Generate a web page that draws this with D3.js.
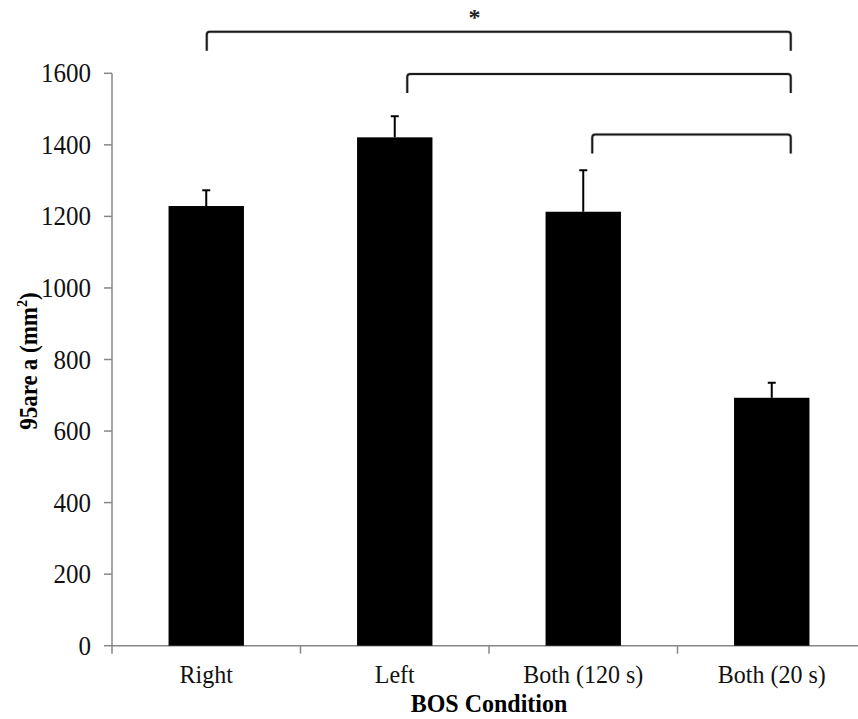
<!DOCTYPE html>
<html><head><meta charset="utf-8">
<script src="https://cdn.jsdelivr.net/npm/d3@7"></script>
<style>body{margin:0;background:#fff}svg{display:block}</style>
</head><body>
<script>
const categories = ["Right", "Left", "Both (120 s)", "Both (20 s)"];
const means = [1229, 1421, 1213, 693];
const errors = [44, 59, 116, 42];
const yTicks = [0, 200, 400, 600, 800, 1000, 1200, 1400, 1600];
const bracketFrom = ["Right", "Left", "Both (120 s)"];
const bracketTo = ["Both (20 s)", "Both (20 s)", "Both (20 s)"];
const bracketLevel = [1716, 1598, 1429];
const sigLabel = "*";

const W = 858, H = 719;
const svg = d3.select("body").append("svg").attr("width", W).attr("height", H);
const x = d3.scaleBand().domain(categories).range([112, 866]).paddingInner(0).paddingOuter(0);
const y = d3.scaleLinear().domain([0, 1600]).range([645.7, 73.3]);
const barW = x.bandwidth() * 0.4;
const cx = c => x(c) + x.bandwidth() / 2;
const font = "'Liberation Serif','Times New Roman',serif";
const axisColor = "#878787";
const sy = 1.08; // glyphs in the reference are slightly taller than wide

// y axis
svg.append("line").attr("x1", 112).attr("x2", 112).attr("y1", y(1600)).attr("y2", y(0) + 8)
  .attr("stroke", axisColor).attr("stroke-width", 1.5);
svg.selectAll(".ytick").data(yTicks).join("line")
  .attr("x1", 104).attr("x2", 112).attr("y1", d => y(d)).attr("y2", d => y(d))
  .attr("stroke", axisColor).attr("stroke-width", 1.5);
svg.selectAll(".ylab").data(yTicks).join("text")
  .attr("transform", d => `translate(91,${y(d) + 9}) scale(1,${sy})`)
  .attr("text-anchor", "end")
  .attr("font-family", font).attr("font-size", 25).attr("fill", "#111").text(d => d);

// x axis
svg.append("line").attr("x1", 112).attr("x2", 866).attr("y1", y(0)).attr("y2", y(0))
  .attr("stroke", axisColor).attr("stroke-width", 1.5);
svg.selectAll(".xtick").data(categories).join("line")
  .attr("x1", d => x(d) + x.bandwidth()).attr("x2", d => x(d) + x.bandwidth())
  .attr("y1", y(0)).attr("y2", y(0) + 8)
  .attr("stroke", axisColor).attr("stroke-width", 1.5);

// bars
svg.selectAll(".bar").data(categories).join("rect")
  .attr("x", d => cx(d) - barW / 2).attr("width", barW)
  .attr("y", (d, i) => y(means[i])).attr("height", (d, i) => y(0) - y(means[i]))
  .attr("fill", "#000");

// error bars (upper only)
svg.selectAll(".err").data(categories).join("line")
  .attr("x1", d => cx(d)).attr("x2", d => cx(d))
  .attr("y1", (d, i) => y(means[i])).attr("y2", (d, i) => y(means[i] + errors[i]))
  .attr("stroke", "#000").attr("stroke-width", 2);
svg.selectAll(".cap").data(categories).join("line")
  .attr("x1", d => cx(d) - 4).attr("x2", d => cx(d) + 4)
  .attr("y1", (d, i) => y(means[i] + errors[i])).attr("y2", (d, i) => y(means[i] + errors[i]))
  .attr("stroke", "#000").attr("stroke-width", 2);

// x labels
svg.selectAll(".xlab").data(categories).join("text")
  .attr("transform", d => `translate(${cx(d)},683) scale(1,${sy})`)
  .attr("text-anchor", "middle")
  .attr("font-family", font).attr("font-size", 24).attr("fill", "#111").text(d => d);

// axis titles
svg.append("text").attr("transform", `translate(489,712) scale(1,${sy})`).attr("text-anchor", "middle")
  .attr("font-family", font).attr("font-size", 24).attr("font-weight", "bold").text("BOS Condition");
const yt = svg.append("text").attr("transform", `translate(37,361) rotate(-90) scale(1,${sy})`)
  .attr("text-anchor", "middle").attr("font-family", font).attr("font-size", 23).attr("font-weight", "bold");
yt.append("tspan").text("95are");
yt.append("tspan").attr("dx", 5).text("a (mm");
yt.append("tspan").attr("font-size", 14).attr("dy", -9).text("2");
yt.append("tspan").attr("dy", 9).text(")");

// significance brackets
const startOff = [0.5, 12.5, 9], endOff = 19, drop = 19, r = 3;
bracketFrom.forEach((f, i) => {
  const x1 = cx(f) + startOff[i], x2 = cx(bracketTo[i]) + endOff, yy = y(bracketLevel[i]);
  const p = d3.path();
  p.moveTo(x1, yy + drop); p.lineTo(x1, yy + r); p.quadraticCurveTo(x1, yy, x1 + r, yy);
  p.lineTo(x2 - r, yy); p.quadraticCurveTo(x2, yy, x2, yy + r); p.lineTo(x2, yy + drop);
  svg.append("path").attr("d", p.toString()).attr("fill", "none")
    .attr("stroke", "#bbb").attr("stroke-width", 3.5).attr("opacity", 0.5);
  svg.append("path").attr("d", p.toString()).attr("fill", "none")
    .attr("stroke", "#1a1a1a").attr("stroke-width", 2);
});
svg.append("text").attr("x", (cx(bracketFrom[0]) + cx(bracketTo[0]) + endOff) / 2 - 24)
  .attr("y", 25).attr("text-anchor", "middle").attr("font-family", font)
  .attr("font-size", 24).attr("font-weight", "bold").attr("fill", "#222").text(sigLabel);
</script>
</body></html>
